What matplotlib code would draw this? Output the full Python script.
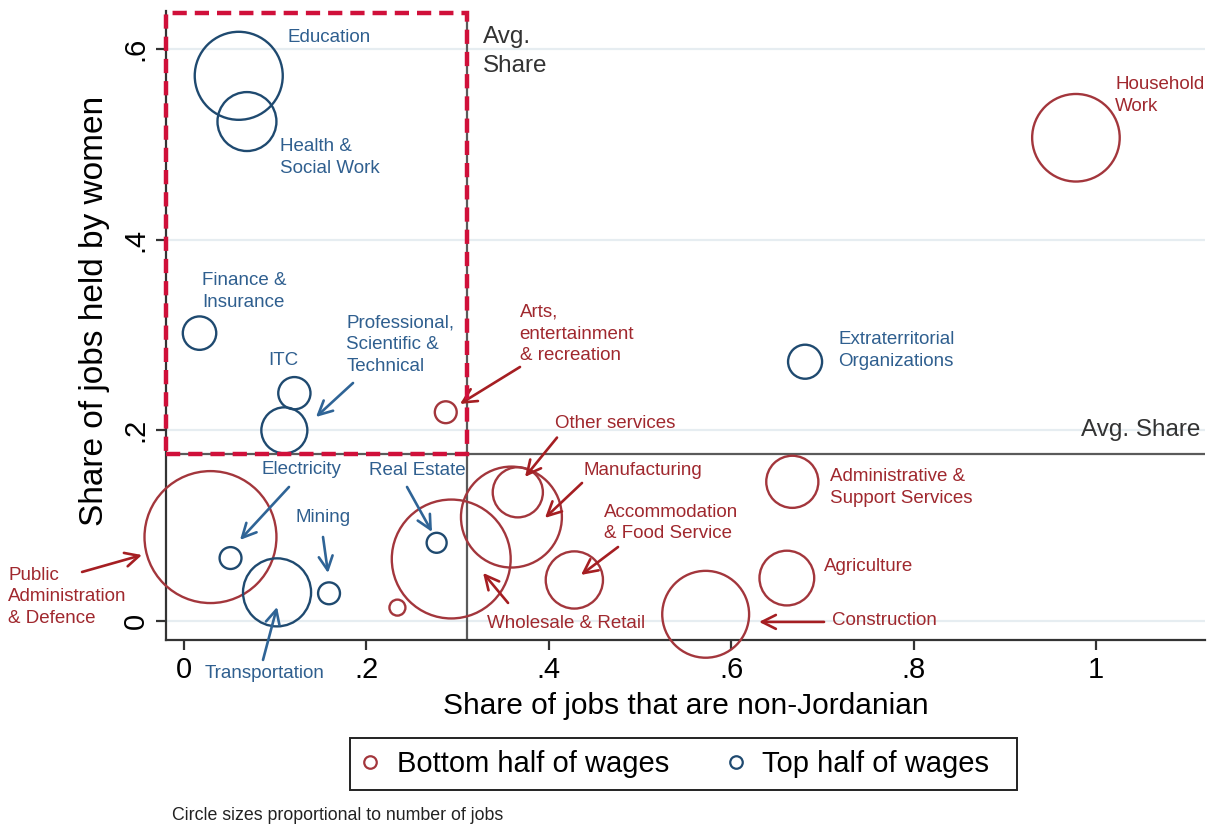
import matplotlib
matplotlib.use("Agg")
import matplotlib.pyplot as plt
from matplotlib.lines import Line2D
from matplotlib.patches import Rectangle

plt.rcParams['font.family'] = ['Liberation Sans', 'DejaVu Sans']

# ---------------- data ----------------
sectors = ["Education", "Health & Social Work", "Finance & Insurance", "ITC",
           "Professional, Scientific & Technical", "Arts, entertainment & recreation",
           "Household Work", "Extraterritorial Organizations", "Other services",
           "Manufacturing", "Administrative & Support Services",
           "Accommodation & Food Service", "Agriculture", "Construction",
           "Wholesale & Retail", "Real Estate", "Other (unlabelled)",
           "Public Administration & Defence", "Electricity", "Transportation", "Mining"]
share_non_jordanian = [0.060, 0.069, 0.017, 0.121, 0.110, 0.287, 0.978, 0.681, 0.366,
                       0.359, 0.667, 0.428, 0.661, 0.572, 0.293, 0.277, 0.234,
                       0.029, 0.051, 0.102, 0.159]
share_women = [0.572, 0.524, 0.302, 0.239, 0.200, 0.219, 0.507, 0.272, 0.135,
               0.109, 0.146, 0.043, 0.045, 0.007, 0.065, 0.082, 0.014,
               0.088, 0.066, 0.030, 0.029]
jobs = [194, 87, 28, 26, 53, 12, 192, 29, 63, 255, 68, 82, 75, 189, 354, 10, 6.4,
        436, 12, 116, 12]
wage_group = ["top", "top", "top", "top", "top", "bottom", "bottom", "top", "bottom",
              "bottom", "bottom", "bottom", "bottom", "bottom", "bottom", "top", "bottom",
              "bottom", "top", "top", "top"]
avg_non_jordanian = 0.31
avg_women = 0.175

# label text, label position (data coords), arrow start/tip
label_text = ["Education", "Health &\nSocial Work", "Finance &\nInsurance", "ITC",
              "Professional,\nScientific &\nTechnical", "Arts,\nentertainment\n& recreation",
              "Household\nWork", "Extraterritorial\nOrganizations", "Other services",
              "Manufacturing", "Administrative &\nSupport Services",
              "Accommodation\n& Food Service", "Agriculture", "Construction",
              "Wholesale & Retail", "Real Estate", "",
              "Public\nAdministration\n& Defence", "Electricity", "Transportation", "Mining"]
label_x = [0.114, 0.105, 0.0197, 0.092, 0.178, 0.368, 1.021, 0.7177, 0.407, 0.4375,
           0.708, 0.4605, 0.702, 0.710, 0.3326, 0.203, None, -0.193, 0.0855, 0.023, 0.1217]
label_y = [0.612, 0.486, 0.346, 0.273, 0.290, 0.301, 0.551, 0.284, 0.207, 0.158,
           0.140, 0.1028, 0.057, 0.000, -0.0024, 0.158, None, 0.0252, 0.159, -0.055, 0.1088]
arrows = {
    "Professional, Scientific & Technical": ((0.1853, 0.2497), (0.1447, 0.2140)),
    "Arts, entertainment & recreation": ((0.3684, 0.2665), (0.3026, 0.2277)),
    "Other services": ((0.4090, 0.1924), (0.3739, 0.1511)),
    "Manufacturing": ((0.4364, 0.1448), (0.3958, 0.1081)),
    "Accommodation & Food Service": ((0.4759, 0.0776), (0.4353, 0.0483)),
    "Wholesale & Retail": ((0.3553, 0.0189), (0.3279, 0.0504)),
    "Construction": ((0.7018, -0.0010), (0.6305, -0.0010)),
    "Public Administration & Defence": ((-0.1118, 0.0514), (-0.0461, 0.0692)),
    "Electricity": ((0.1151, 0.1406), (0.0614, 0.0850)),
    "Mining": ((0.1524, 0.0881), (0.1579, 0.0503)),
    "Real Estate": ((0.2445, 0.1406), (0.2719, 0.0934)),
    "Transportation": ((0.0866, -0.0409), (0.1020, 0.0147)),
}

x_ticks = [0, 0.2, 0.4, 0.6, 0.8, 1.0]
x_ticklabels = ["0", ".2", ".4", ".6", ".8", "1"]
y_ticks = [0, 0.2, 0.4, 0.6]
y_ticklabels = ["0", ".2", ".4", ".6"]

# ---------------- style ----------------
circle_col = {"bottom": "#A3363C", "top": "#1F4A70"}
text_col = {"bottom": "#A0282E", "top": "#2F5F8F"}
arrow_col = {"bottom": "#A51E22", "top": "#2F6496"}
size_scale = 20.7
line_step = 0.0228


def multiline(ax, x, y, text, step, **kw):
    lines = text.split("\n")
    n = len(lines)
    for k, ln in enumerate(lines):
        ax.text(x, y + (n - 1) / 2 * step - k * step, ln, va="center", **kw)


fig = plt.figure(figsize=(12.11, 8.27), dpi=100)
ax = fig.add_axes([0.1369, 0.2261, 0.8585, 0.7606])
ax.set_xlim(-0.02, 1.12)
ax.set_ylim(-0.02, 0.64)

for yt in y_ticks:
    ax.axhline(yt, color="#E6EDF1", lw=1.6, zorder=0)

ax.axhline(avg_women, color="#5A5A5A", lw=1.6, zorder=1)
ax.axvline(avg_non_jordanian, color="#5A5A5A", lw=1.6, zorder=1)

for g in ["bottom", "top"]:
    idx = [i for i, w in enumerate(wage_group) if w == g]
    sc = ax.scatter([share_non_jordanian[i] for i in idx], [share_women[i] for i in idx],
                    s=[jobs[i] * size_scale for i in idx], facecolors="none",
                    edgecolors=circle_col[g], linewidths=1.7, zorder=3)
    sc.set_clip_on(False)

for i, name in enumerate(sectors):
    if label_x[i] is None:
        continue
    g = wage_group[i]
    multiline(ax, label_x[i], label_y[i], label_text[i], line_step,
              color=text_col[g], fontsize=13.5, ha="left", zorder=4, clip_on=False)
    if name in arrows:
        (sx, sy), (tx, ty) = arrows[name]
        ax.annotate("", xy=(tx, ty), xytext=(sx, sy),
                    arrowprops=dict(arrowstyle="->,head_length=1.0,head_width=0.5",
                                    color=arrow_col[g], lw=1.9, shrinkA=0, shrinkB=0),
                    annotation_clip=False, zorder=4)

# average labels
multiline(ax, 0.3275, 0.597, "Avg.\nShare", 0.0304, fontsize=17.5, color="#333333",
          ha="left")
ax.text(1.114, 0.2004, "Avg. Share", fontsize=17.5, color="#333333",
        ha="right", va="center")

# highlighted quadrant
rect = Rectangle((-0.02, avg_women), avg_non_jordanian + 0.02, 0.638 - avg_women,
                 fill=False, edgecolor="#D0103A", lw=3.2, linestyle=(0, (3.2, 1.8)),
                 zorder=5, clip_on=False)
ax.add_patch(rect)

# axes styling
for s in ["top", "right"]:
    ax.spines[s].set_visible(False)
for s in ["left", "bottom"]:
    ax.spines[s].set_color("#333333")
    ax.spines[s].set_linewidth(1.6)
ax.set_xticks(x_ticks)
ax.set_xticklabels(x_ticklabels, fontsize=21)
ax.set_yticks(y_ticks)
ax.set_yticklabels(y_ticklabels, fontsize=21, rotation=90, va="center")
ax.tick_params(axis="both", length=7.5, width=1.6, color="#333333", pad=4)
ax.set_xlabel("Share of jobs that are non-Jordanian", fontsize=21.5, labelpad=6)
ax.set_ylabel("Share of jobs held by women", fontsize=24)
ax.yaxis.set_label_coords(-0.054, 0.523)

handles = [Line2D([], [], marker="o", ls="none", markerfacecolor="none",
                  markeredgecolor=circle_col["bottom"], markersize=9, markeredgewidth=1.6),
           Line2D([], [], marker="o", ls="none", markerfacecolor="none",
                  markeredgecolor=circle_col["top"], markersize=9, markeredgewidth=1.6)]
leg = fig.legend(handles, ["Bottom half of wages", "Top half of wages"], loc="center left",
                 bbox_to_anchor=(334 / 1211, 1 - 764 / 827), ncol=2, fontsize=21,
                 frameon=False, handlelength=0.8, handletextpad=0.5,
                 columnspacing=1.9, borderpad=0.35)
fig.patches.append(Rectangle((350 / 1211, 1 - 790 / 827), 667 / 1211, 52 / 827,
                             transform=fig.transFigure, fill=False,
                             edgecolor="#222222", lw=1.4))

fig.text(172 / 1211, 1 - 815 / 827, "Circle sizes proportional to number of jobs",
         fontsize=12.8, ha="left", va="center", color="#222222")

fig.savefig("out.png", dpi=100)
